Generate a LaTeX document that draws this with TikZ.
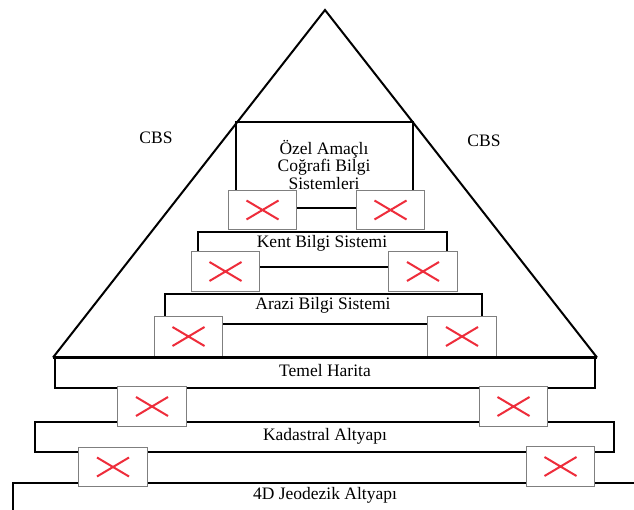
\documentclass[tikz,border=0pt]{standalone}
\usepackage{fontspec}
\setmainfont{Liberation Serif}
\definecolor{xred}{HTML}{EE2D3B}
\definecolor{xgray}{HTML}{7F7F7F}
\tikzset{
  layer/.style={draw=black, line width=2pt},
  lbl/.style={inner sep=0pt, align=center, font=\fontsize{17.5}{17.5}\selectfont},
  imgbox/.style={draw=xgray, line width=0.9pt, fill=white, minimum width=68.5pt, minimum height=39.5pt, inner sep=0pt,
    path picture={\draw[xred, line width=2pt]
      ([xshift=-16pt,yshift=-9.5pt]path picture bounding box.center) -- ([xshift=16pt,yshift=9.5pt]path picture bounding box.center)
      ([xshift=-16pt,yshift=9.5pt]path picture bounding box.center) -- ([xshift=16pt,yshift=-9.5pt]path picture bounding box.center);}}
}
\begin{document}
\begin{tikzpicture}[x=1pt,y=-1pt]
\useasboundingbox (0,0) rectangle (634,510);
\clip (0,0) rectangle (634,510);
% pyramid
\coordinate (apex) at (325,10);
\coordinate (bl) at (53,357.5);
\coordinate (br) at (597,357.5);
\draw[line width=2pt, line join=miter] (bl) -- (apex) -- (br);
% layer boxes
\draw[layer] (236,121.7) rectangle (412.5,208);
\draw[layer] (197.7,232) rectangle (446.7,267);
\draw[layer] (165,294) rectangle (482,324);
\draw[layer] (55,357.5) rectangle (595,388);
\draw[layer] (35,422) rectangle (614,452);
\draw[layer] (13,483) rectangle (650,530);
% image placeholders
\node[imgbox] (o1) at (262.5,210) {};
\node[imgbox] (o2) at (390.5,210) {};
\node[imgbox] (k1) at (225.5,271.5) {};
\node[imgbox] (k2) at (423,271.5) {};
\node[imgbox] (a1) at (188.5,336.5) {};
\node[imgbox] (a2) at (462,336.5) {};
\node[imgbox] (t1) at (152,406.5) {};
\node[imgbox] (t2) at (513.5,406.5) {};
\node[imgbox] (d1) at (113,467) {};
\node[imgbox] (d2) at (560.5,466.5) {};
% thick base
\draw[line width=3.6pt] (bl) -- (br);
% labels
\node[lbl] (cbsL) at (156,138) {CBS};
\node[lbl] (cbsR) at (484,141) {CBS};
\node[lbl] (ozel) at (324,164.5) {Özel Amaçlı\\Coğrafi Bilgi\\Sistemleri};
\node[lbl] (kent) at (322,243) {Kent Bilgi Sistemi};
\node[lbl] (arazi) at (323,305) {Arazi Bilgi Sistemi};
\node[lbl] (temel) at (325,371) {Temel Harita};
\node[lbl] (kad) at (325,436) {Kadastral Altyapı};
\node[lbl] (jeo) at (325,495) {4D Jeodezik Altyapı};
\end{tikzpicture}
\end{document}
